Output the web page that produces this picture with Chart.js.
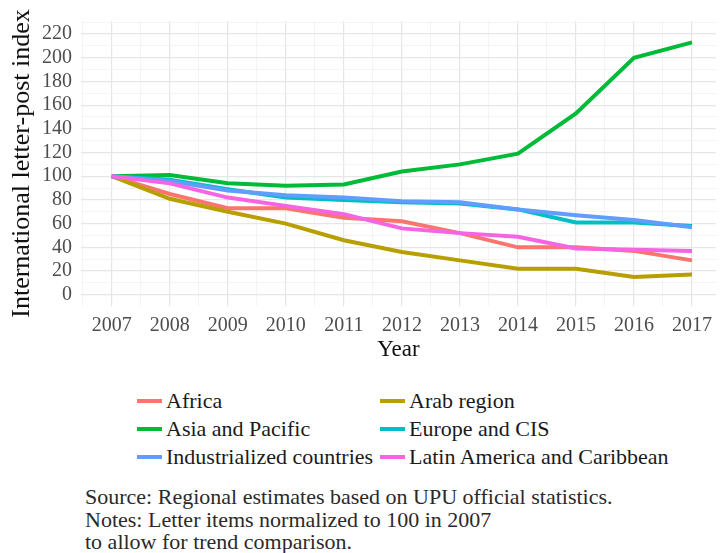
<!DOCTYPE html>
<html>
<head>
<meta charset="utf-8">
<script src="https://cdn.jsdelivr.net/npm/chart.js@4.4.1/dist/chart.umd.min.js"></script>
<style>
  html, body { margin: 0; padding: 0; background: #fff; overflow: hidden; }
  body { width: 720px; height: 553px; position: relative; }
  #wrap { position: absolute; left: 0; top: 0; width: 720px; height: 370px; }
  #legend { position: absolute; left: 137px; top: 387px; display: grid; grid-template-columns: 243px auto; grid-auto-rows: 28px; font-family: "Liberation Serif", "Times New Roman", serif; font-size: 22px; color: #1a1a1a; }
  #legend .item { display: flex; align-items: center; white-space: nowrap; }
  #legend .sw { width: 25px; height: 4px; margin-right: 4px; }
  #notes { position: absolute; left: 85px; top: 486px; font-family: "Liberation Serif", "Times New Roman", serif; font-size: 22px; line-height: 22.5px; color: #2a2a2a; }
</style>
</head>
<body>
<div id="wrap"><canvas id="chart" width="720" height="370"></canvas></div>
<div id="legend"></div>
<div id="notes">Source: Regional estimates based on UPU official statistics.<br>Notes: Letter items normalized to 100 in 2007<br>to allow for trend comparison.</div>
<script>
var years = [2007, 2008, 2009, 2010, 2011, 2012, 2013, 2014, 2015, 2016, 2017];
var regions = ['Africa', 'Arab region', 'Asia and Pacific', 'Europe and CIS', 'Industrialized countries', 'Latin America and Caribbean'];
var colors = ['#F8766D', '#B79F00', '#00BA38', '#00BFC4', '#619CFF', '#F564E3'];

var africa = [100, 85, 73, 73, 65, 62, 52, 40, 40, 37, 29];
var arab = [100, 81, 70, 60, 46, 36, 29, 22, 22, 15, 17];
var asiaPacific = [100, 101, 94, 92, 93, 104, 110, 119, 153, 200, 213];
var europeCis = [100, 97, 89, 82, 80, 78, 77, 72, 61, 61, 58];
var industrialized = [100, 96, 88, 84, 82, 79, 78, 72, 67, 63, 57];
var latinAmerica = [100, 94, 82, 75, 68, 56, 52, 49, 39, 38, 37];

var series = [africa, arab, asiaPacific, europeCis, industrialized, latinAmerica];

var yTicks = [];
for (var v = 0; v <= 230; v += 10) yTicks.push(v);
var xTicks = [];
for (var t = 2006.5; t <= 2017; t += 0.5) xTicks.push(t);

var datasets = series.map(function (vals, i) {
    return {
        label: regions[i],
        data: vals.map(function (y, j) { return { x: years[j], y: y }; }),
        borderColor: colors[i],
        backgroundColor: colors[i],
        borderWidth: 4,
        pointRadius: 0,
        tension: 0,
        fill: false,
        order: series.length - i
    };
});

var serif = '"Liberation Serif", "Times New Roman", serif';

var chart = new Chart(document.getElementById('chart'), {
    type: 'line',
    data: { datasets: datasets },
    options: {
        responsive: false,
        animation: false,
        layout: { padding: { top: 18, right: 0, bottom: 0, left: 0 } },
        plugins: { legend: { display: false }, tooltip: { enabled: false } },
        scales: {
            x: {
                type: 'linear',
                min: 2006.47,
                max: 2017.41,
                afterBuildTicks: function (s) { s.ticks = xTicks.map(function (v) { return { value: v }; }); },
                afterFit: function (s) { s.height = 64; },
                border: { display: false },
                grid: {
                    drawTicks: false,
                    color: function (c) { return Number.isInteger(c.tick.value) ? '#e6e6e6' : '#f1f1f1'; },
                    lineWidth: function (c) { return Number.isInteger(c.tick.value) ? 1.2 : 0.8; }
                },
                ticks: {
                    autoSkip: false,
                    maxRotation: 0,
                    padding: 8,
                    color: '#4d4d4d',
                    font: { family: serif, size: 20 },
                    callback: function (v) { return Number.isInteger(v) ? String(v) : ''; }
                },
                title: {
                    display: true,
                    text: 'Year',
                    color: '#111',
                    font: { family: serif, size: 23 },
                    padding: { top: 0, bottom: 6 }
                }
            },
            y: {
                min: -9.5,
                max: 231,
                afterBuildTicks: function (s) { s.ticks = yTicks.map(function (v) { return { value: v }; }); },
                afterFit: function (s) { s.width = 81; },
                border: { display: false },
                grid: {
                    drawTicks: false,
                    color: function (c) { return c.tick.value % 20 === 0 ? '#e6e6e6' : '#f1f1f1'; },
                    lineWidth: function (c) { return c.tick.value % 20 === 0 ? 1.2 : 0.8; }
                },
                ticks: {
                    autoSkip: false,
                    padding: 9,
                    color: '#4d4d4d',
                    font: { family: serif, size: 20 },
                    callback: function (v) { return v % 20 === 0 ? String(v) : ''; }
                },
                title: {
                    display: true,
                    text: 'International letter-post index',
                    color: '#111',
                    font: { family: serif, size: 26 },
                    padding: { top: 7, bottom: 0 }
                }
            }
        }
    }
});

var legend = document.getElementById('legend');
chart.data.datasets.forEach(function (ds) {
    var item = document.createElement('div');
    item.className = 'item';
    var sw = document.createElement('span');
    sw.className = 'sw';
    sw.style.background = ds.borderColor;
    var txt = document.createElement('span');
    txt.textContent = ds.label;
    item.appendChild(sw);
    item.appendChild(txt);
    legend.appendChild(item);
});
</script>
</body>
</html>
